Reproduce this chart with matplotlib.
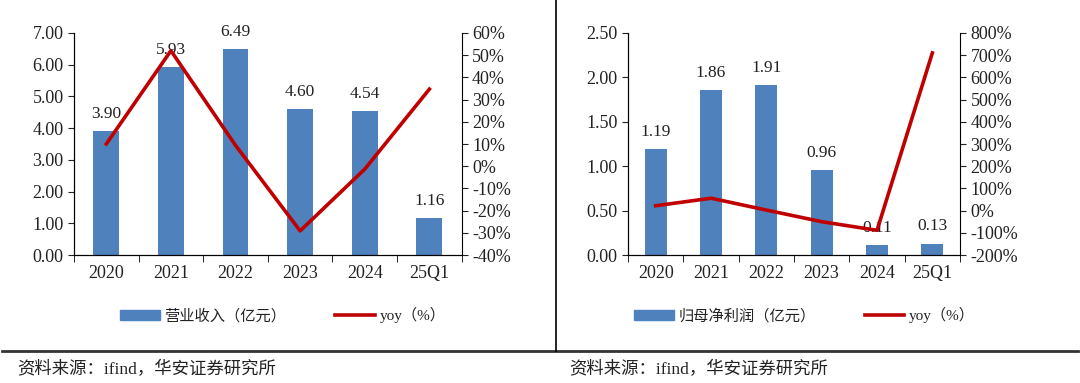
import matplotlib.pyplot as plt
from matplotlib.lines import Line2D
from matplotlib.patches import Patch
from matplotlib.ticker import FuncFormatter, MultipleLocator
import numpy as np

plt.rcParams['font.family'] = ['Liberation Serif', 'Noto Sans CJK SC']

categories = ['2020', '2021', '2022', '2023', '2024', '25Q1']

revenue = [3.90, 5.93, 6.49, 4.60, 4.54, 1.16]
revenue_yoy = [10.0, 52.0, 9.4, -29.1, -1.3, 34.7]

profit = [1.19, 1.86, 1.91, 0.96, 0.11, 0.13]
profit_yoy = [22.0, 56.0, 2.7, -49.7, -88.5, 710.0]

bar_color = '#4f81bd'
line_color = '#c00000'
text_color = '#222222'


def draw_panel(ax, bars, yoy, ylim, ystep, y2lim, y2step):
    x = np.arange(len(categories))
    ax.bar(x, bars, width=0.4, color=bar_color, zorder=2)
    for xi, v in zip(x, bars):
        ax.annotate(f'{v:.2f}', (xi, v), xytext=(0, 6.5), textcoords='offset points',
                    ha='center', va='bottom', fontsize=12.5, color=text_color, zorder=1)
    ax.set_xlim(-0.5, len(categories) - 0.5)
    ax.set_ylim(*ylim)
    ax.yaxis.set_major_locator(MultipleLocator(ystep))
    ax.yaxis.set_major_formatter(FuncFormatter(lambda v, p: f'{v:.2f}'))
    ax.set_xticks(x)
    ax.set_xticklabels(categories)
    ax.set_xticks(np.arange(-0.5, len(categories)), minor=True)
    ax.tick_params(axis='x', which='major', length=0, pad=7)
    ax.tick_params(axis='x', which='minor', length=5, direction='out')
    ax.tick_params(axis='y', length=4, direction='out')
    ax.tick_params(labelsize=13, colors=text_color)
    ax.spines['top'].set_visible(False)
    ax.spines['right'].set_visible(False)

    ax2 = ax.twinx()
    ax2.plot(x, yoy, color=line_color, lw=2.6, zorder=3)
    ax2.set_ylim(*y2lim)
    ax2.yaxis.set_major_locator(MultipleLocator(y2step))
    ax2.yaxis.set_major_formatter(FuncFormatter(lambda v, p: f'{v:.0f}%'))
    ax2.tick_params(axis='y', length=4, direction='out', labelsize=13, colors=text_color)
    ax2.spines['top'].set_visible(False)
    return ax2


fig = plt.figure(figsize=(10.8, 3.83), dpi=100)

ax_l = fig.add_axes([0.0685, 0.334, 0.359, 0.580])
draw_panel(ax_l, revenue, revenue_yoy, (0, 7), 1, (-40, 60), 10)

ax_r = fig.add_axes([0.5815, 0.334, 0.3074, 0.580])
draw_panel(ax_r, profit, profit_yoy, (0, 2.5), 0.5, (-200, 800), 100)

# legends
for cx, name in [(0.262, '营业收入（亿元）'), (0.745, '归母净利润（亿元）')]:
    handles = [Patch(color=bar_color, label=name),
               Line2D([], [], color=line_color, lw=2.6, label='yoy（%）')]
    fig.legend(handles=handles, loc='center', bbox_to_anchor=(cx, 0.177), ncol=2,
               frameon=False, fontsize=11, handlelength=2.6, handleheight=0.7,
               handletextpad=0.3, columnspacing=3.2, labelcolor=text_color)

# separators
fig.add_artist(Line2D([0.002, 0.998], [0.0836, 0.0836], color='#333333', lw=2.0,
                      transform=fig.transFigure))
fig.add_artist(Line2D([0.515, 0.515], [0.0836, 1.0], color='black', lw=1.2,
                      transform=fig.transFigure))

source = '资料来源：ifind，华安证券研究所'
fig.text(0.016, 0.035, source, fontsize=12.5, va='center', ha='left', color=text_color)
fig.text(0.527, 0.035, source, fontsize=12.5, va='center', ha='left', color=text_color)

fig.savefig('out.png', dpi=100)
